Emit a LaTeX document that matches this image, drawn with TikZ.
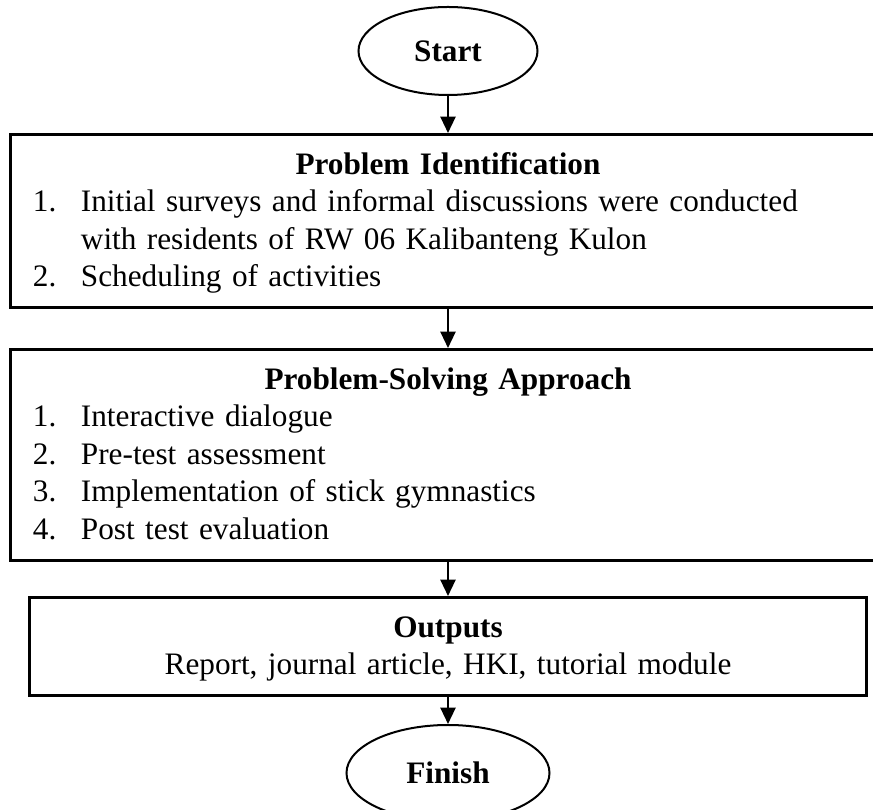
\documentclass[tikz,border=0pt]{standalone}
\usepackage{fontspec}
\setmainfont{Liberation Serif}
\usetikzlibrary{shapes.geometric,arrows.meta}

\tikzset{
  terminal/.style={draw, ellipse, line width=0.8pt, inner sep=0pt,
    font=\fontsize{12.5}{15}\selectfont\bfseries},
  stagebox/.style={draw, rectangle, line width=1.2pt, anchor=north,
    inner xsep=8.8pt, inner ysep=0pt, font=\fontsize{12.5}{15}\selectfont},
  flow/.style={-{Triangle[width=6pt,length=6.5pt]}, line width=0.8pt},
}

% struts that fix the space above the first and below the last line
\newcommand{\firstline}{\rule{0pt}{16pt}}
\newcommand{\lastline}{\rule[-8.4pt]{0pt}{0pt}}
% numbered line with hanging indent
\newcommand{\listitem}[2]{\par\hangindent=19.2pt\hangafter=1\noindent\hbox to 19.2pt{#1\hfil}#2}

\begin{document}
\begin{tikzpicture}[x=0.4pt, y=-0.4pt]

  \useasboundingbox (0,0) rectangle (873,810);

  % Start terminal
  \node[terminal, minimum width=71.6pt, minimum height=35.2pt] (start) at (448,51) {Start};

  % Stage boxes
  \node[stagebox, text width=332pt] (ident) at (448,133)
    {\centerline{\firstline\textbf{Problem Identification}}%
     \listitem{1.}{Initial surveys and informal discussions were conducted\hfil\break
       with residents of RW 06 Kalibanteng Kulon}%
     \listitem{2.}{Scheduling of activities\lastline}};

  \node[stagebox, text width=332pt] (approach) at (448,348)
    {\centerline{\firstline\textbf{Problem-Solving Approach}}%
     \listitem{1.}{Interactive dialogue}%
     \listitem{2.}{Pre-test assessment}%
     \listitem{3.}{Implementation of stick gymnastics}%
     \listitem{4.}{Post test evaluation\lastline}};

  \node[stagebox, text width=316.8pt, align=center] (outputs) at (448,596)
    {\firstline\textbf{Outputs}\\
     Report, journal article, HKI, tutorial module\lastline};

  % Finish terminal
  \node[terminal, minimum width=81.2pt, minimum height=38.4pt] (finish) at (448,773) {Finish};

  % Flow arrows
  \draw[flow] (start) -- (ident);
  \draw[flow] (ident) -- (approach);
  \draw[flow] (approach) -- (outputs);
  \draw[flow] (outputs) -- (finish);

\end{tikzpicture}
\end{document}
